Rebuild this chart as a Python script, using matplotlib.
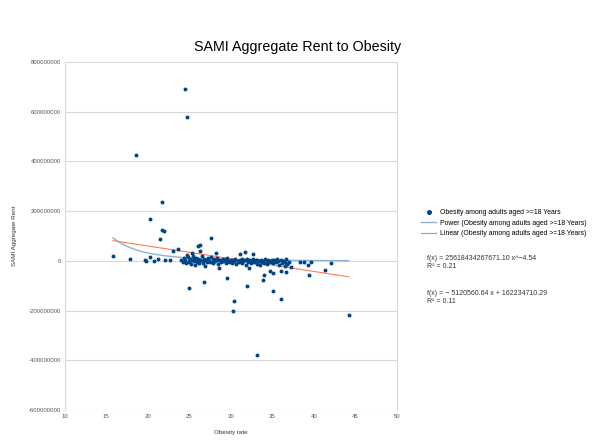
import matplotlib
matplotlib.use("Agg")
import matplotlib.pyplot as plt
import numpy as np
from matplotlib.lines import Line2D

plt.rcParams["font.family"] = ["Liberation Sans", "DejaVu Sans"]

# obesity rate (%) and SAMI aggregate rent (in millions)
obesity = [
    24.5, 24.7, 18.6, 21.7, 20.3, 21.65, 21.9, 21.5, 15.8, 17.8, 19.6, 19.8,
    20.3, 20.8, 21.2, 22.1, 23.0, 23.6, 25.0, 26.1, 26.3, 26.3, 27.6, 26.8,
    28.2, 28.6, 29.5, 30.4, 30.3, 31.1, 31.65, 31.9, 32.2, 32.7, 33.1, 33.9,
    34.0, 34.7, 35.1, 35.1, 36.0, 36.1, 36.7, 36.5, 36.8, 38.3, 38.8, 39.4,
    39.3, 39.6, 41.4, 42.1, 44.2, 22.7, 24.7, 25.3,
    24.0, 24.2, 24.4, 24.5, 24.6, 24.8, 24.9, 25.0, 25.1, 25.2, 25.3, 25.4,
    25.5, 25.6, 25.7, 25.8, 25.9, 26.0, 26.1, 26.2, 26.3, 26.5, 26.6, 26.7,
    26.8, 26.9, 27.0, 27.1, 27.2, 27.4, 27.5, 27.6, 27.8, 27.9, 28.0, 28.1,
    28.3, 28.4, 28.5, 28.7, 28.8, 29.0, 29.1, 29.3, 29.4, 29.5, 29.7, 29.8,
    30.0, 30.1, 30.2, 30.4, 30.5, 30.6, 30.8, 31.0, 31.1, 31.3, 31.4, 31.5,
    31.7, 31.8, 32.0, 32.1, 32.3, 32.4, 32.5, 32.7, 32.8, 33.0, 33.1, 33.2,
    33.4, 33.5, 33.6, 33.8, 33.9, 34.0, 34.1, 34.3, 34.4, 34.5, 34.7, 34.8,
    35.0, 35.1, 35.2, 35.4, 35.5, 35.7, 35.8, 36.0, 36.2, 36.3, 36.5, 36.6,
    36.8, 37.0, 37.2,
]
rent_m = [
    690, 578, 425, 237, 167, 124, 120, 87, 21, 9, 4, 0,
    17, 0, 7, 4, 39, 47, -111, 60, 63, 41, 91, -86,
    33, -29, -70, -163, -200, 28, 35, -103, -28, 27, -379, -76,
    -56, -39, -47, -120, -154, -41, -45, -5, -12, -5, -5, -55,
    -18, -5, -36, -9, -217, 2, 25, 30,
    5, -3, 10, 2, -8, 15, 0, -5, 8, -12, 3, 20,
    -2, 6, -15, 12, -4, 2, 9, -7, 4, 18, -10, 1,
    7, -20, 5, -3, 11, 0, -6, 14, 3, -9, 6, -2,
    10, -14, 2, 4, -5, 8, -1, 3, -10, 12, 0, -4,
    5, -8, 2, -2, 7, -12, 1, -3, 4, -7, 9, -1,
    2, -15, 6, -4, 3, -9, 0, 8, -6, 2, -11, 5,
    -2, -18, 4, -5, 1, -8, 7, -3, -13, 3, -6, 0,
    5, -10, 2, -4, 8, -2, -15, 3, -7, 1, -20, 6,
    -12, -3, -25,
]

# trend line coefficients as printed on the chart
pow_a, pow_b = 25618434267671.10, -4.54
lin_m, lin_c = -5120560.64, 162234710.29

x = np.array(obesity)
y = np.array(rent_m) * 1e6

fig = plt.figure(figsize=(5.95, 4.44), dpi=100)
ax = fig.add_axes([0.109, 0.0766, 0.558, 0.7838])

ax.scatter(x, y, s=8, color="#004586", zorder=3, linewidths=0)

xs = np.linspace(x.min(), x.max(), 200)
ax.plot(xs, pow_a * xs ** pow_b, color="#8fb0d0", lw=1, zorder=2)
ax.plot(xs, lin_m * xs + lin_c, color="#ff7b52", lw=0.8, zorder=2)

ax.set_xlim(10, 50)
ax.set_ylim(-600000000, 800000000)
ax.set_xticks(range(10, 51, 5))
ax.set_yticks(range(-600000000, 800000001, 200000000))
ax.yaxis.set_major_formatter(matplotlib.ticker.FuncFormatter(lambda v, p: f"{int(v)}"))
ax.grid(axis="y", color="#d8d8d8", lw=0.8)
ax.set_axisbelow(True)
for side in ["top", "bottom"]:
    ax.spines[side].set_visible(False)
for side in ["left", "right"]:
    ax.spines[side].set_color("#d8d8d8")
ax.tick_params(axis="both", labelsize=4.3, colors="#555555", length=0, pad=3)

ax.set_xlabel("Obesity rate", fontsize=4.5, color="#333333", labelpad=8)
ax.set_ylabel("SAMI Aggregate Rent", fontsize=4.5, color="#333333", labelpad=8)

fig.text(0.5, 0.895, "SAMI Aggregate Rent to Obesity", ha="center", va="center", fontsize=10.3)

handles = [
    Line2D([], [], ls="none", marker="o", ms=2.6, color="#004586"),
    Line2D([], [], color="#8fb0d0", lw=1),
    Line2D([], [], color="#ff7b52", lw=0.8),
]
labels = [
    "Obesity among adults aged >=18 Years",
    "Power (Obesity among adults aged >=18 Years)",
    "Linear (Obesity among adults aged >=18 Years)",
]
fig.legend(handles, labels, loc="upper left", bbox_to_anchor=(0.703, 0.535),
           frameon=False, fontsize=4.95, handlelength=2.2, labelspacing=0.5,
           handletextpad=0.6, borderaxespad=0)

eq_style = dict(fontsize=5.0, color="#333333", ha="left", va="center")
fig.text(0.718, 0.417, "f(x) = 25618434267671.10 x^−4.54", **eq_style)
fig.text(0.718, 0.399, "R² = 0.21", **eq_style)
fig.text(0.718, 0.340, "f(x) = − 5120560.64 x + 162234710.29", **eq_style)
fig.text(0.718, 0.322, "R² = 0.11", **eq_style)

fig.savefig("out.png", dpi=100)
